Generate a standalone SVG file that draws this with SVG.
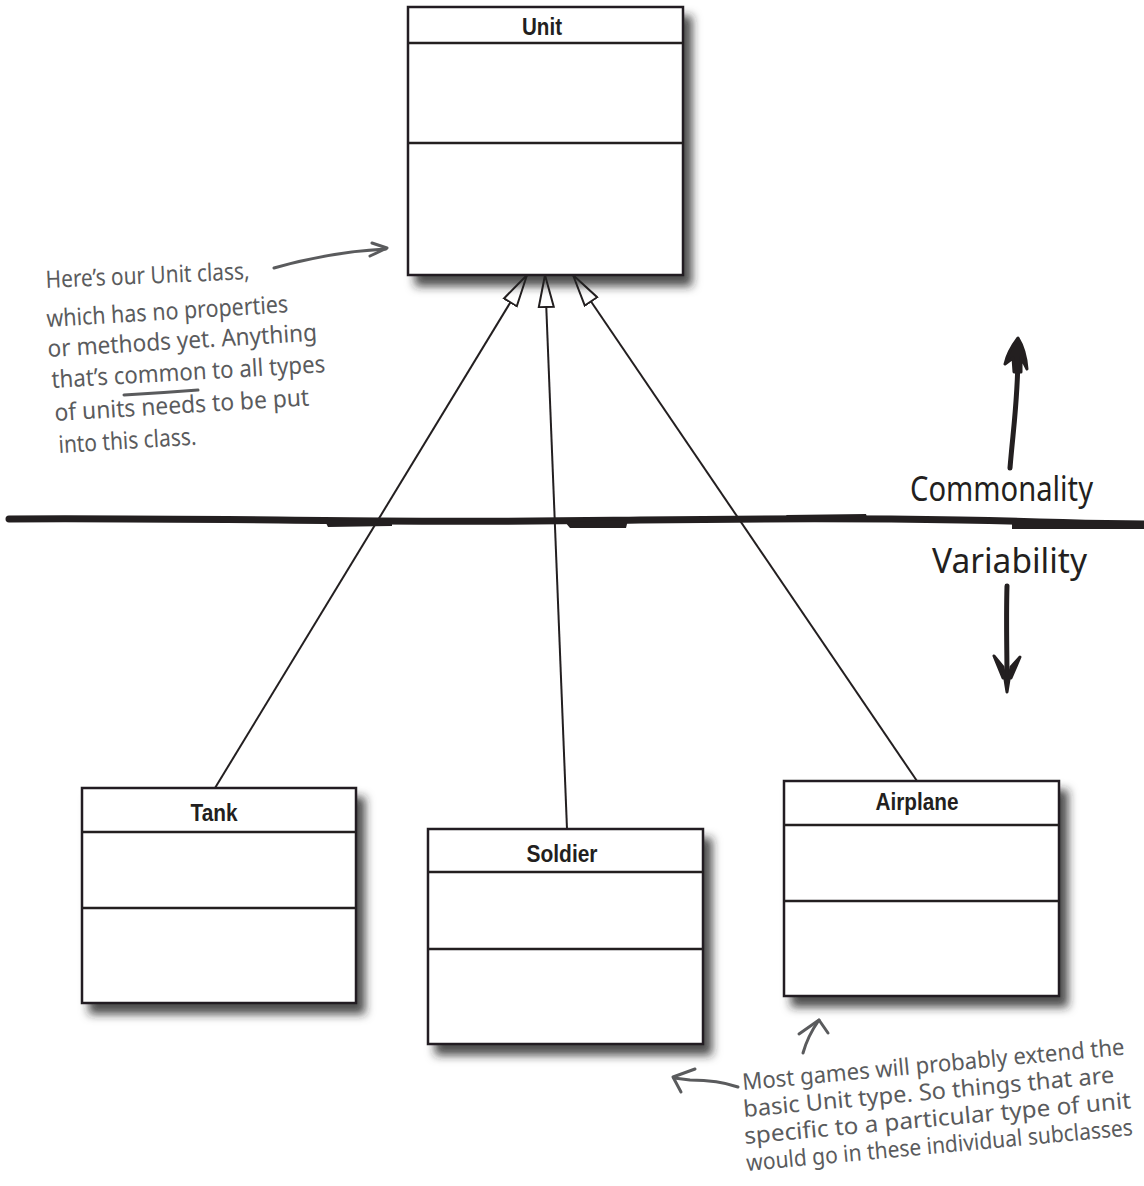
<svg xmlns="http://www.w3.org/2000/svg" width="1144" height="1186" viewBox="0 0 1144 1186">
<style>
.box{fill:#fff;stroke:#231f20;stroke-width:2.5;filter:url(#sh)}
.div{stroke:#231f20;stroke-width:2.5;fill:none}
.name{font-family:"Liberation Sans",Arial,sans-serif;font-weight:bold;font-size:24px;fill:#231f20;text-anchor:middle}
.conn{stroke:#231f20;stroke-width:2;fill:none}
.note{font-family:"Noto Sans","DejaVu Sans",sans-serif;font-size:24px;fill:#5a5b5d}
.notes{font-family:"Noto Sans","DejaVu Sans",sans-serif;font-size:23px;fill:#5a5b5d}
.notel{stroke:#5a5b5d;stroke-width:3;fill:none;stroke-linecap:round;stroke-linejoin:round}
.hand{font-family:"Noto Sans","DejaVu Sans",sans-serif;font-size:34px;fill:#231f20}
.ink{stroke:#231f20;fill:none;stroke-linecap:round;stroke-linejoin:round}
</style>
<defs>
<filter id="sh" x="-10%" y="-10%" width="130%" height="130%">
<feDropShadow dx="8" dy="10" stdDeviation="5" flood-color="#222" flood-opacity="0.8"/>
</filter>
<marker id="gen" viewBox="0 0 34 18" refX="33" refY="9" markerWidth="34" markerHeight="18" markerUnits="userSpaceOnUse" orient="auto">
<path d="M1,1.5 L33,9 L1,16.5 Z" fill="#fff" stroke="#231f20" stroke-width="2"/>
</marker>
</defs>
<rect width="1144" height="1186" fill="#fff"/>

<!-- divider line -->
<g id="divider">
<path class="ink" stroke-width="7" d="M9,519 C120,518 250,520 380,521 S560,521 640,520 S850,518 960,520 S1080,524 1144,524"/>
<path fill="#231f20" d="M325,521 L392,519 L392,526 L328,527 Z"/>
<path fill="#231f20" d="M565,522 L628,520 L626,528 L570,528 Z"/>
<path fill="#231f20" d="M786,515 L866,514 L868,521 L790,521 Z"/>
<path fill="#231f20" d="M1012,521 L1144,521 L1144,529 L1012,529 Z"/>
</g>

<!-- connectors -->
<g id="connectors">
<line class="conn" x1="215" y1="788" x2="527" y2="275" marker-end="url(#gen)"/>
<line class="conn" x1="567" y1="829" x2="545" y2="275" marker-end="url(#gen)"/>
<line class="conn" x1="917" y1="781" x2="573" y2="275" marker-end="url(#gen)"/>
</g>

<!-- nodes -->
<g id="unit">
<rect class="box" x="408" y="7" width="275" height="268"/>
<line class="div" x1="408" y1="43" x2="683" y2="43"/>
<line class="div" x1="408" y1="143" x2="683" y2="143"/>
<text class="name" x="542" y="35" textLength="40" lengthAdjust="spacingAndGlyphs">Unit</text>
</g>
<g id="tank">
<rect class="box" x="82" y="788" width="274" height="215"/>
<line class="div" x1="82" y1="832" x2="356" y2="832"/>
<line class="div" x1="82" y1="908" x2="356" y2="908"/>
<text class="name" x="214" y="821" textLength="47" lengthAdjust="spacingAndGlyphs">Tank</text>
</g>
<g id="soldier">
<rect class="box" x="428" y="829" width="275" height="215"/>
<line class="div" x1="428" y1="872" x2="703" y2="872"/>
<line class="div" x1="428" y1="949" x2="703" y2="949"/>
<text class="name" x="562" y="862" textLength="71" lengthAdjust="spacingAndGlyphs">Soldier</text>
</g>
<g id="airplane">
<rect class="box" x="784" y="781" width="275" height="215"/>
<line class="div" x1="784" y1="825" x2="1059" y2="825"/>
<line class="div" x1="784" y1="901" x2="1059" y2="901"/>
<text class="name" x="917" y="810" textLength="83" lengthAdjust="spacingAndGlyphs">Airplane</text>
</g>

<!-- commonality / variability -->
<g id="commonality">
<path class="ink" stroke-width="5" d="M1010,468 C1013,430 1018,400 1018,352"/>
<path fill="#231f20" stroke="#231f20" stroke-width="3" stroke-linejoin="round" d="M1018,338 C1012,346 1007,355 1005,364 L1013,358 L1014,372 L1021,372 L1021,357 L1027,369 C1026,356 1023,346 1018,338 Z"/>
<text class="hand" x="910" y="501" textLength="183" lengthAdjust="spacingAndGlyphs">Commonality</text>
</g>
<g id="variability">
<text class="hand" x="932" y="573" textLength="155" lengthAdjust="spacingAndGlyphs">Variability</text>
<path class="ink" stroke-width="5" d="M1007,586 C1006,620 1007,650 1007,680"/>
<path fill="#231f20" stroke="#231f20" stroke-width="3" stroke-linejoin="round" d="M994,656 L1003,667 L1007,692 L1011,667 L1020,657 L1011,678 L1003,678 Z"/>
</g>

<!-- note: Unit class -->
<g id="note-unit">
<text class="note" x="46" y="288" transform="rotate(-2.5 46 288)" textLength="204" lengthAdjust="spacingAndGlyphs">Here’s our Unit class,</text>
<text class="note" x="47" y="327" transform="rotate(-3.5 47 327)" textLength="242" lengthAdjust="spacingAndGlyphs">which has no properties</text>
<text class="note" x="48" y="357" transform="rotate(-3.5 48 357)" textLength="270" lengthAdjust="spacingAndGlyphs">or methods yet. Anything</text>
<text class="note" x="52" y="388" transform="rotate(-3.3 52 388)" textLength="274" lengthAdjust="spacingAndGlyphs">that’s common to all types</text>
<text class="note" x="55" y="421" transform="rotate(-3.5 55 421)" textLength="255" lengthAdjust="spacingAndGlyphs">of units needs to be put</text>
<text class="note" x="59" y="453" transform="rotate(-3.5 59 453)" textLength="138" lengthAdjust="spacingAndGlyphs">into this class.</text>
<path class="notel" d="M124,395 Q160,393 198,390"/>
<path class="notel" d="M274,268 Q330,252 386,249"/>
<path class="notel" d="M372,243 L387,248 L370,256"/>
</g>

<!-- note: subclasses -->
<g id="note-sub">
<text class="notes" x="0" y="0" transform="translate(743 1090) rotate(-5.3) scale(0.88 1)" textLength="436" lengthAdjust="spacingAndGlyphs">Most games will probably extend the</text>
<text class="notes" x="0" y="0" transform="translate(744 1117) rotate(-5.3) scale(0.88 1)" textLength="423" lengthAdjust="spacingAndGlyphs">basic Unit type. So things that are</text>
<text class="notes" x="0" y="0" transform="translate(745 1144) rotate(-5.3) scale(0.88 1)" textLength="441" lengthAdjust="spacingAndGlyphs">specific to a particular type of unit</text>
<text class="notes" x="0" y="0" transform="translate(747 1171) rotate(-5.3) scale(0.88 1)" textLength="441" lengthAdjust="spacingAndGlyphs">would go in these individual subclasses</text>
<path class="notel" d="M803,1053 C806,1042 812,1030 819,1020"/>
<path class="notel" d="M799,1034 L819,1020 L828,1033"/>
<path class="notel" d="M738,1087 C724,1082 708,1080 690,1080 L674,1078"/>
<path class="notel" d="M695,1069 L673,1077 L681,1092"/>
</g>
</svg>
